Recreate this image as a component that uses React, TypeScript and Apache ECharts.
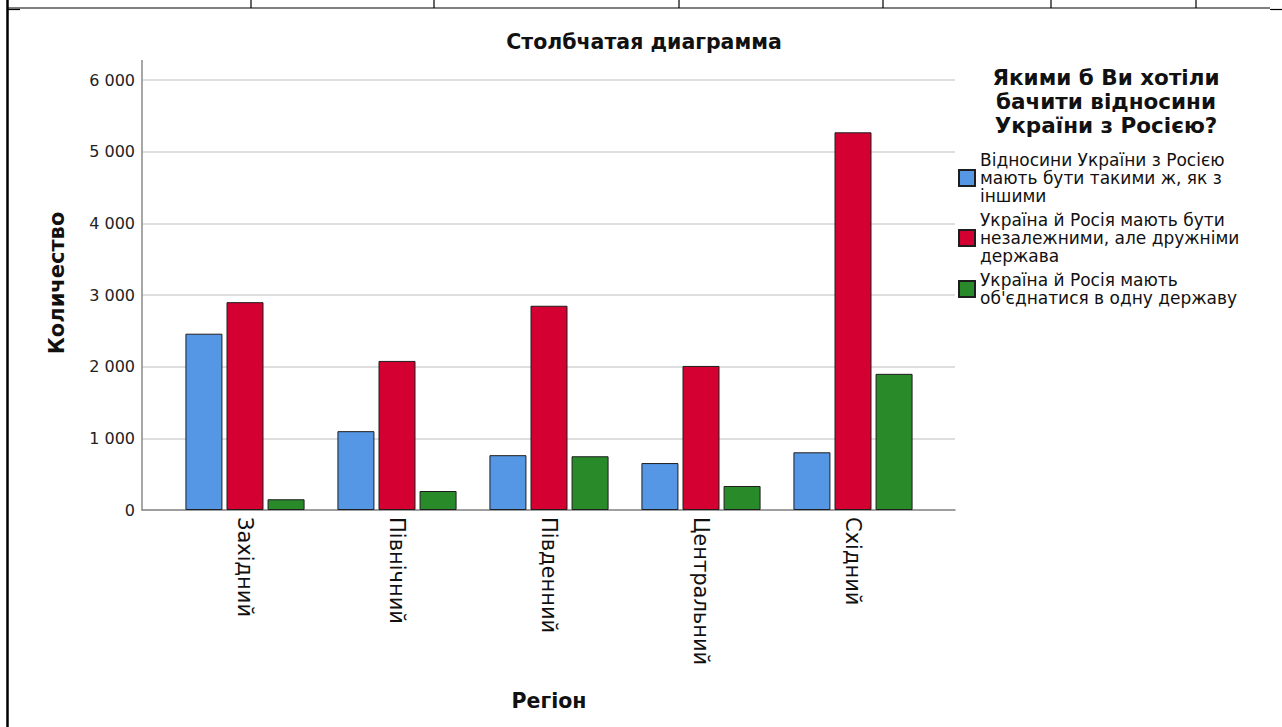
import React, { useEffect, useRef } from "react";
import * as echarts from "echarts";

const categories = ["Західний", "Північний", "Південний", "Центральний", "Східний"];
const seriesNames = [
  "Відносини України з Росією\nмають бути такими ж, як з\nіншими",
  "Україна й Росія мають бути\nнезалежними, але дружніми\nдержава",
  "Україна й Росія мають\nоб'єднатися в одну державу",
];
const sameAsOthers = [2460, 1100, 765, 655, 805];
const independentFriendly = [2900, 2080, 2850, 2010, 5270];
const unite = [150, 265, 750, 335, 1900];
const seriesColors = ["#5596e5", "#d50032", "#288a29"];
const yTicks = [0, 1000, 2000, 3000, 4000, 5000, 6000];

const FONT = "DejaVu Sans";

export default function App() {
  const ref = useRef<HTMLDivElement>(null);
  useEffect(() => {
    if (!ref.current) return;
    const chart = echarts.init(ref.current, undefined, { renderer: "svg" });
    const values = [sameAsOthers, independentFriendly, unite];
    const topLines = [251, 434, 679, 883, 1051, 1196];
    chart.setOption({
      animation: false,
      backgroundColor: "#ffffff",
      title: [
        {
          text: "Столбчатая диаграмма",
          left: 644,
          top: 31,
          padding: 0,
          textAlign: "center",
          textStyle: { fontFamily: FONT, fontSize: 20.5, fontWeight: "bold", color: "#111" },
        },
        {
          text: "Якими б Ви хотіли\nбачити відносини\nУкраїни з Росією?",
          left: 1106,
          top: 65,
          padding: 0,
          textAlign: "center",
          textStyle: { fontFamily: FONT, fontSize: 21.5, fontWeight: "bold", color: "#111", lineHeight: 24 },
        },
      ],
      legend: {
        orient: "vertical",
        left: 958,
        top: 151,
        padding: 0,
        itemWidth: 16,
        itemHeight: 16,
        itemGap: 6,
        icon: "rect",
        data: seriesNames,
        textStyle: { fontFamily: FONT, fontSize: 17, lineHeight: 18, color: "#111" },
      },
      grid: [
        { left: 142, right: 327, top: 80, bottom: 217 },
        { left: 169, right: 353, top: 80, bottom: 217 },
      ],
      xAxis: [
        {
          type: "value",
          gridIndex: 0,
          min: 0,
          max: 1,
          axisLine: { show: true, onZero: false, lineStyle: { color: "#8a8a8a", width: 1.5 } },
          axisTick: { show: false },
          axisLabel: { show: false },
          splitLine: { show: false },
        },
        {
          type: "category",
          gridIndex: 1,
          data: categories,
          axisLine: { show: false },
          axisTick: { show: false },
          axisLabel: {
            rotate: -90,
            margin: 7,
            fontFamily: FONT,
            fontSize: 21,
            color: "#111",
          },
          name: "Регіон",
          nameLocation: "middle",
          nameGap: 180,
          nameTextStyle: { fontFamily: FONT, fontSize: 20.5, fontWeight: "bold", color: "#111" },
        },
      ],
      yAxis: [
        {
          type: "value",
          gridIndex: 0,
          min: yTicks[0],
          max: yTicks[yTicks.length - 1],
          interval: 1000,
          axisLine: { show: true, lineStyle: { color: "#8a8a8a", width: 1.5 } },
          axisTick: { show: false },
          axisLabel: {
            margin: 7,
            fontFamily: FONT,
            fontSize: 16,
            color: "#222",
            formatter: (v: number) => (v >= 1000 ? `${Math.floor(v / 1000)} ${String(v % 1000).padStart(3, "0")}` : String(v)),
          },
          splitLine: { show: true, lineStyle: { color: "#d4d4d4", width: 1.5 } },
          name: "Количество",
          nameLocation: "middle",
          nameGap: 75,
          nameTextStyle: {
            fontFamily: FONT,
            fontSize: 21,
            fontWeight: "bold",
            color: "#111",
            padding: [0, 0, 0, 24],
          },
        },
        {
          type: "value",
          gridIndex: 1,
          min: 0,
          max: 6000,
          interval: 1000,
          show: false,
        },
      ],
      series: values.map((d, i) => ({
        type: "bar",
        name: seriesNames[i],
        xAxisIndex: 1,
        yAxisIndex: 1,
        data: d,
        barWidth: 37,
        barGap: "11%",
        itemStyle: { color: seriesColors[i], borderColor: "#1e1e1e", borderWidth: 1 },
      })),
      graphic: [
        { type: "line", shape: { x1: 7.5, y1: 0, x2: 7.5, y2: 727 }, style: { stroke: "#000", lineWidth: 2.5 } },
        { type: "line", shape: { x1: 7, y1: 8, x2: 1270, y2: 8 }, style: { stroke: "#000", lineWidth: 1.2 } },
        { type: "line", shape: { x1: 8, y1: 9.5, x2: 20, y2: 9.5 }, style: { stroke: "#000", lineWidth: 1.2 } },
        { type: "line", shape: { x1: 1270, y1: 9.5, x2: 1282, y2: 9.5 }, style: { stroke: "#000", lineWidth: 1.2 } },
        ...topLines.map((x) => ({
          type: "line",
          shape: { x1: x, y1: 0, x2: x, y2: 8 },
          style: { stroke: "#000", lineWidth: 1.2 },
        })),
        { type: "line", shape: { x1: 142, y1: 60, x2: 142, y2: 80 }, style: { stroke: "#8a8a8a", lineWidth: 1.5 } },
      ],
    });
    return () => chart.dispose();
  }, []);
  return <div ref={ref} style={{ position: "fixed", left: 0, top: 0, width: 1282, height: 727 }} />;
}
